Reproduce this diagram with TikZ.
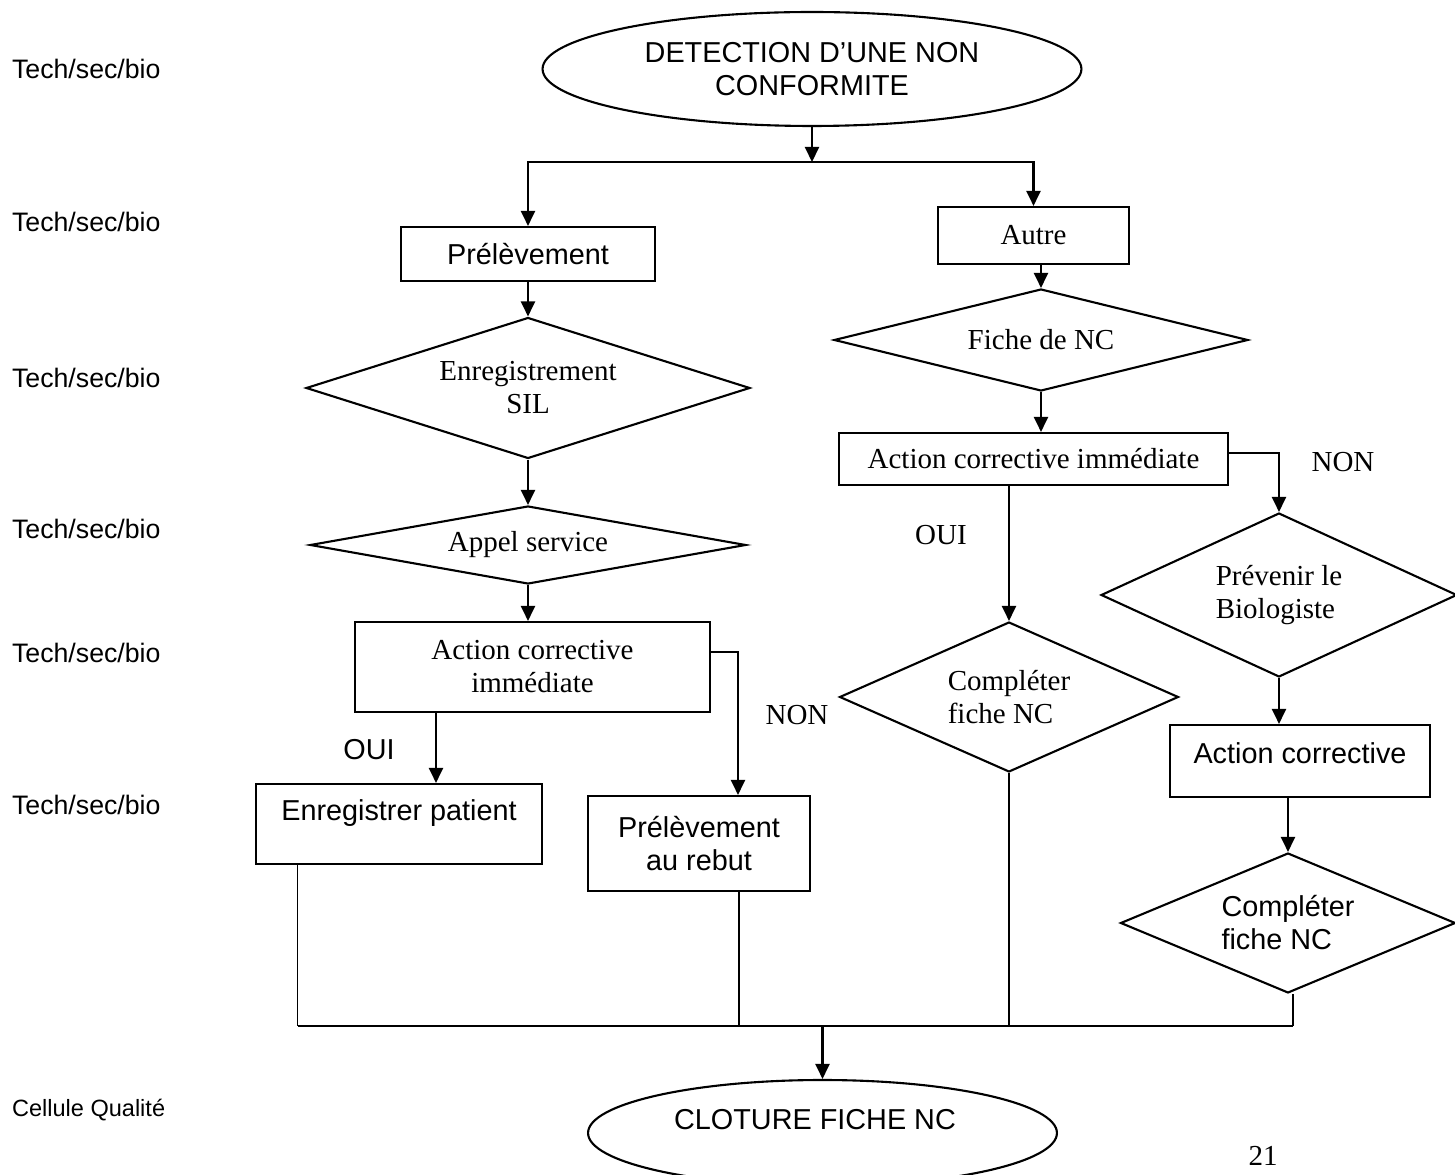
\documentclass[tikz,border=0pt]{standalone}
\usepackage{fontspec}
\setmainfont{Liberation Serif}
\newfontfamily\arialfont{Liberation Sans}
\usetikzlibrary{shapes.geometric,arrows.meta}
\newcommand{\serifsz}{\fontsize{16.5}{18.8}\selectfont}
\newcommand{\sanssz}{\arialfont\fontsize{16.4}{18.8}\selectfont}
\begin{document}
\begin{tikzpicture}[x=0.02cm,y=-0.02cm,>={Triangle[length=0.3cm,width=0.28cm]}]
\tikzstyle{every node}=[line width=1.2pt]
\tikzstyle{boite}=[draw,rectangle,inner sep=2pt]
\tikzstyle{losange}=[draw,diamond,inner sep=0pt]
\tikzstyle{bulle}=[draw,ellipse,inner sep=0pt]
\tikzstyle{txtserif}=[font=\serifsz,align=center]
\tikzstyle{txtsans}=[font=\sanssz,align=center]
\tikzstyle{etiq}=[anchor=west,inner sep=0pt,font=\arialfont\fontsize{15.2}{17}\selectfont]
\tikzstyle{fleche}=[->,line width=1.2pt]
\tikzstyle{trait}=[line width=0.7pt]
\useasboundingbox (0,0) rectangle (1455,1175);

%%% roles, left column
\foreach \y/\nom in {69/a,222/b,378/c,529/d,653/e,805/f}{\node[etiq] (role\nom) at (11,\y) {Tech/sec/bio};}
\node[etiq,font=\arialfont\fontsize{13.4}{16}\selectfont] (rolecq) at (11,1110) {Cellule Qualité};

%%%------------------------------------------------------------
\node[bulle,txtsans,minimum width=10.78cm,minimum height=2.28cm] (detect) at (812,69) {DETECTION D’UNE NON\\CONFORMITE};
\coordinate (split) at (812,162);

%%% prelevement branch
\node[boite,txtsans,minimum width=5.08cm,minimum height=1.08cm] (prel) at (528,254) {Prélèvement};
\node[losange,txtserif,minimum width=8.88cm,minimum height=2.82cm,shape aspect=3.15] (enreg) at (528,388) {Enregistrement\\SIL};
\node[losange,txtserif,minimum width=8.72cm,minimum height=1.56cm,shape aspect=5.6] (appel) at (528,545) {Appel service};
\node[boite,txtserif,minimum width=7.1cm,minimum height=1.8cm] (actimm) at (532.5,667) {Action corrective\\immédiate};
\node[boite,minimum width=5.72cm,minimum height=1.6cm] (enrpat) at (399,824) {};
\node[txtsans] (enrpattxt) at (399,813) {Enregistrer patient};
\node[boite,txtsans,minimum width=4.43cm,minimum height=1.9cm] (rebut) at (699,843.5) {Prélèvement\\au rebut};
\draw[fleche] (prel) -- (enreg);
\draw[fleche] (enreg) -- (appel);
\draw[fleche] (appel.south) -- (appel.south |- actimm.north);
\coordinate (ouiL) at (436,0);
\draw[fleche] (ouiL |- actimm.south) -- (ouiL |- enrpat.north);
\coordinate (nonL) at (738,652);
\draw[fleche] (nonL -| actimm.east) -| (nonL |- rebut.north);
\node[txtsans] (ouiA) at (369,750) {OUI};
\node[txtserif] (nonA) at (797,715) {NON};

%%% autre branch
\node[boite,txtserif,minimum width=3.82cm,minimum height=1.14cm] (autre) at (1033.5,235.5) {Autre};
\node[losange,txtserif,minimum width=8.28cm,minimum height=2.04cm,shape aspect=4] (fiche) at (1041,340) {Fiche de NC};
\node[boite,txtserif,minimum width=7.78cm,minimum height=1.04cm] (actimmb) at (1033.5,459) {Action corrective immédiate};
\node[losange,txtserif,align=left,minimum width=7.12cm,minimum height=3.28cm,shape aspect=2.17] (prevenir) at (1279,595) {Prévenir le\\Biologiste};
\node[losange,txtserif,align=left,minimum width=6.78cm,minimum height=3cm,shape aspect=2.26] (complA) at (1009,697) {Compléter\\fiche NC};
\node[boite,minimum width=5.2cm,minimum height=1.44cm] (actcor) at (1300,761) {};
\node[txtsans] (actcortxt) at (1300,753) {Action corrective};
\node[losange,txtsans,align=left,minimum width=6.7cm,minimum height=2.8cm,shape aspect=2.4] (complB) at (1288,923) {Compléter\\fiche NC};
\draw[fleche] (fiche.north |- autre.south) -- (fiche.north);
\draw[fleche] (fiche.south) -- (fiche.south |- actimmb.north);
\coordinate (nonR) at (1272,453);
\draw[fleche] (nonR -| actimmb.east) -| (prevenir.north);
\draw[fleche] (complA.north |- actimmb.south) -- (complA.north);
\draw[fleche] (prevenir.south) -- (prevenir.south |- actcor.north);
\draw[fleche] (complB.north |- actcor.south) -- (complB.north);
\node[txtserif] (ouiB) at (941,535) {OUI};
\node[txtserif] (nonB) at (1343,462) {NON};

%%% split after the detection
\draw[fleche] (detect.south) -- (split);
\draw[fleche] (split) -| (prel.north);
\draw[fleche] (split) -| (autre.north);

%%%------------------------------------------------------------
\coordinate (busA) at (297.6,1026);
\coordinate (busB) at (739,1026);
\coordinate (busC) at (1009,1026);
\coordinate (busD) at (1293,1026);
\coordinate (busM) at (822.5,1026);
\draw[trait] (busA |- enrpat.south) -- (busA);
\draw[trait] (busB |- rebut.south) -- (busB);
\draw[trait] (complA.south) -- (busC);
\draw[trait] (busD |- complB.south) -- (busD);
\draw[line width=1.2pt] (busA) -- (busD);
\node[bulle,minimum width=9.38cm,minimum height=2.12cm] (cloture) at (822.5,1133) {};
\node[txtsans] (cloturetxt) at (815,1120) {CLOTURE FICHE NC};
\draw[fleche] (busM) -- (cloture.north);
\node[txtserif] (page) at (1263,1156) {21};
\end{tikzpicture}
\end{document}
